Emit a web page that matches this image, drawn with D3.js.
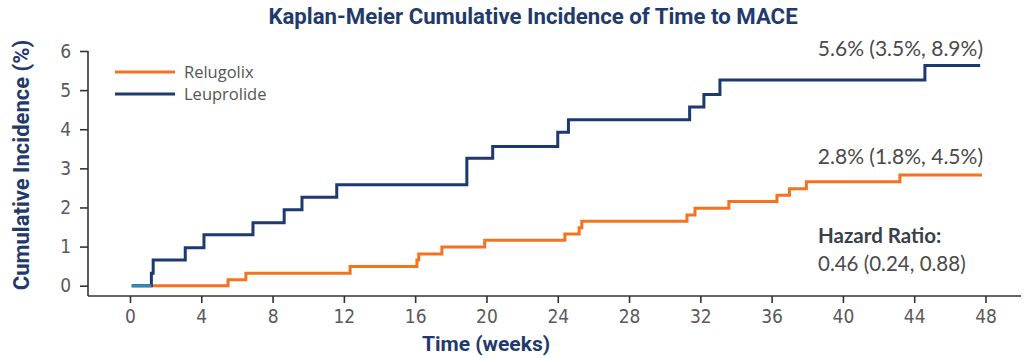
<!DOCTYPE html>
<html>
<head>
<meta charset="utf-8">
<script src="https://cdn.jsdelivr.net/npm/d3@7"></script>
<style>
  body { margin: 0; background: #fff; }
  svg { display: block; }
  .tick text { font-family: "Liberation Sans Narrow", "DejaVu Sans Condensed", "DejaVu Sans", sans-serif; font-stretch: condensed; fill: #5a5a5a; }
</style>
</head>
<body>
<svg id="chart"></svg>
<script>
let w = 1027
let h = 358

// x-axis ticks (weeks) and y-axis ticks (%)
let weekTicks = [0, 4, 8, 12, 16, 20, 24, 28, 32, 36, 40, 44, 48]
let pctTicks = [0, 1, 2, 3, 4, 5, 6]

// Leuprolide KM steps
let leuTime  = [0.1, 1.2, 1.3, 3.1, 4.15, 6.9, 8.65, 9.65, 11.6, 18.9, 20.35, 24.0, 24.6, 31.4, 32.2, 33.1, 44.6, 47.7]
let leuValue = [0, 0.32, 0.66, 0.97, 1.30, 1.61, 1.94, 2.26, 2.58, 3.26, 3.56, 3.92, 4.24, 4.57, 4.89, 5.26, 5.63, 5.63]

// Relugolix KM steps
let relTime  = [0.1, 5.5, 6.5, 12.35, 16.1, 16.2, 17.5, 19.9, 24.4, 25.2, 25.35, 31.25, 31.7, 33.6, 36.3, 37.0, 37.95, 43.2, 47.8]
let relValue = [0, 0.15, 0.32, 0.49, 0.66, 0.81, 0.99, 1.16, 1.32, 1.48, 1.65, 1.81, 1.98, 2.15, 2.31, 2.48, 2.66, 2.83, 2.83]

let seriesNames = ["Relugolix", "Leuprolide"]
let endLabels = ["2.8% (1.8%, 4.5%)", "5.6% (3.5%, 8.9%)"]
let hrLabel = "Hazard Ratio:"
let hrValue = "0.46 (0.24, 0.88)"

let navy = "#1d3a6f"
let orange = "#f5731e"
let teal = "#2b8cc0"
let titleBlue = "#1f3a6b"

let svg = d3.select("#chart")
    .attr("width", w)
    .attr("height", h)

let x = d3.scaleLinear().domain([0, 48]).range([130, 985.5])
let y = d3.scaleLinear().domain([0, 6]).range([285.7, 51])

// axis lines
svg.append("line")
    .attr("x1", 88).attr("x2", 88)
    .attr("y1", y(6)).attr("y2", 296)
    .attr("stroke", "#333").attr("stroke-width", 1.6)
svg.append("line")
    .attr("x1", 88).attr("x2", 1021)
    .attr("y1", 296).attr("y2", 296)
    .attr("stroke", "#333").attr("stroke-width", 1.6)

let xAxis = svg.append("g")
    .attr("transform", "translate(0,296)")
    .call(d3.axisBottom(x).tickValues(weekTicks).tickSize(7).tickPadding(7))
xAxis.select(".domain").remove()
xAxis.selectAll("line").attr("stroke", "#333").attr("stroke-width", 1.6)
xAxis.selectAll("text").style("font-size", "19px")

let yAxis = svg.append("g")
    .attr("transform", "translate(88,0)")
    .call(d3.axisLeft(y).tickValues(pctTicks).tickFormat(d3.format("d")).tickSize(8).tickPadding(9))
yAxis.select(".domain").remove()
yAxis.selectAll("line").attr("stroke", "#333").attr("stroke-width", 1.6)
yAxis.selectAll("text").style("font-size", "19px")

// step lines
let line = d3.line()
    .x(d => x(d[0]))
    .y(d => y(d[1]))
    .curve(d3.curveStepAfter)

let relData = relTime.map((t, i) => [t, relValue[i]])
let leuData = leuTime.map((t, i) => [t, leuValue[i]])

svg.append("path")
    .datum(relData)
    .attr("d", line)
    .attr("fill", "none")
    .attr("stroke", orange)
    .attr("stroke-width", 3)

svg.append("path")
    .datum(leuData)
    .attr("d", line)
    .attr("fill", "none")
    .attr("stroke", navy)
    .attr("stroke-width", 3)

// overlapping start segment
svg.append("path")
    .datum([[leuTime[0], leuValue[0]], [leuTime[1], leuValue[0]]])
    .attr("d", line)
    .attr("fill", "none")
    .attr("stroke", teal)
    .attr("stroke-width", 3)

// legend
let legend = svg.append("g")
seriesNames.forEach((name, i) => {
    let ly = 72 + i * 22
    legend.append("line")
        .attr("x1", 115).attr("x2", 175)
        .attr("y1", ly).attr("y2", ly)
        .attr("stroke", i == 0 ? orange : navy)
        .attr("stroke-width", 3)
    legend.append("text")
        .attr("x", 184).attr("y", ly)
        .attr("dy", "0.35em")
        .attr("font-family", "'Open Sans', sans-serif")
        .attr("font-size", 16.5)
        .attr("fill", "#555")
        .text(name)
})

// titles
svg.append("text")
    .attr("x", 533).attr("y", 24)
    .attr("text-anchor", "middle")
    .attr("font-family", "Roboto, sans-serif")
    .attr("font-weight", 700)
    .attr("font-size", 22.2)
    .attr("fill", titleBlue)
    .text("Kaplan-Meier Cumulative Incidence of Time to MACE")

svg.append("text")
    .attr("transform", "translate(29,165) rotate(-90)")
    .attr("text-anchor", "middle")
    .attr("font-family", "Roboto, sans-serif")
    .attr("font-weight", 700)
    .attr("font-size", 22)
    .attr("fill", titleBlue)
    .text("Cumulative Incidence (%)")

svg.append("text")
    .attr("x", 486).attr("y", 351)
    .attr("text-anchor", "middle")
    .attr("font-family", "Roboto, sans-serif")
    .attr("font-weight", 700)
    .attr("font-size", 21)
    .attr("fill", titleBlue)
    .text("Time (weeks)")

// annotations
let annFont = "Lato, 'Noto Sans', sans-serif"
svg.append("text")
    .attr("x", 983).attr("y", y(leuValue[leuValue.length - 1]) - 9)
    .attr("text-anchor", "end")
    .attr("font-family", annFont)
    .attr("font-size", 21)
    .attr("fill", "#4a4a4a")
    .text(endLabels[1])

svg.append("text")
    .attr("x", 983).attr("y", y(relValue[relValue.length - 1]) - 11)
    .attr("text-anchor", "end")
    .attr("font-family", annFont)
    .attr("font-size", 21)
    .attr("fill", "#4a4a4a")
    .text(endLabels[0])

svg.append("text")
    .attr("x", 818).attr("y", 243)
    .attr("font-family", annFont)
    .attr("font-weight", 700)
    .attr("font-size", 20.5)
    .attr("fill", "#3a3f4a")
    .text(hrLabel)

svg.append("text")
    .attr("x", 818).attr("y", 271)
    .attr("font-family", annFont)
    .attr("font-size", 20.5)
    .attr("fill", "#4a4a4a")
    .text(hrValue)
</script>
</body>
</html>
